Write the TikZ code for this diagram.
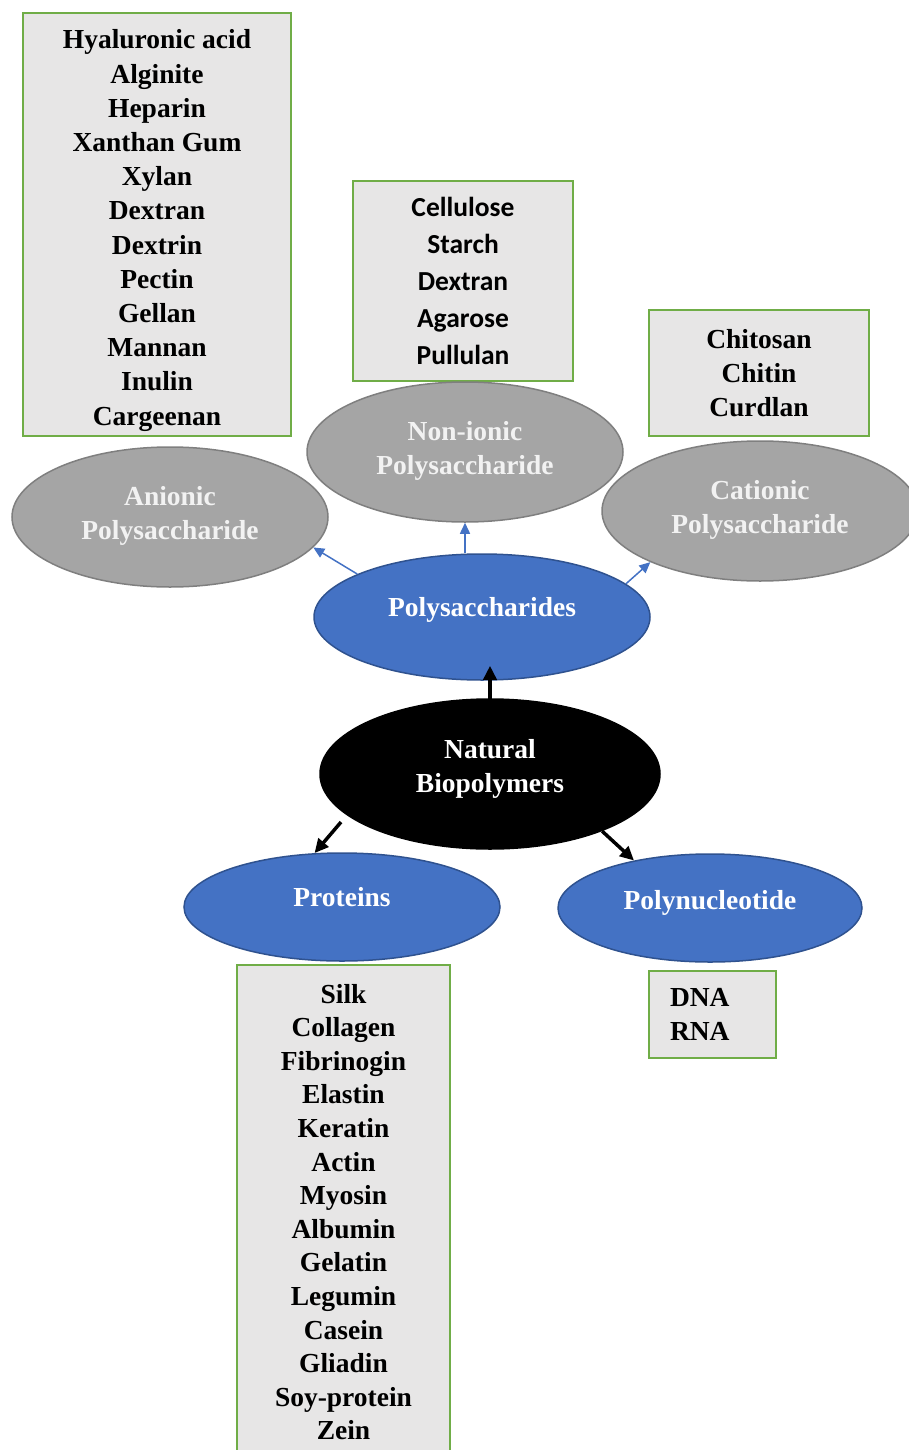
\documentclass[tikz,border=0pt]{standalone}
\usepackage{fontspec}
\setmainfont{Liberation Serif}
\newfontfamily\carlito{Carlito}
\usepackage{xcolor}
\usetikzlibrary{arrows.meta, shapes.geometric, calc}
\definecolor{boxgreen}{HTML}{70AD47}
\definecolor{boxfill}{HTML}{E7E6E6}
\definecolor{ellgray}{HTML}{A5A5A5}
\definecolor{ellgrayline}{HTML}{7F7F7F}
\definecolor{ellblue}{HTML}{4472C4}
\definecolor{ellblueline}{HTML}{2F528F}
\definecolor{paletext}{HTML}{F2F2F2}

\begin{document}
\begin{tikzpicture}[
  x=1pt, y=-1pt,
  every node/.style={font=\fontsize{27.5}{34}\selectfont\bfseries},
  listbox/.style={draw=boxgreen, line width=2.5pt, fill=boxfill, inner sep=0pt, align=center},
  ell/.style={ellipse, inner sep=0pt, align=center, line width=1.5pt},
  grayell/.style={ell, draw=ellgrayline, fill=ellgray, text=paletext, minimum width=316pt, minimum height=140pt},
  blueell/.style={ell, draw=ellblueline, fill=ellblue, text=white},
  rootell/.style={ell, draw=black, fill=black, text=white},
  thinarrow/.style={-{Triangle[length=11pt,width=10pt]}, draw=ellblue, line width=1.5pt},
  thickarrow/.style={-{Triangle[length=14pt,width=13pt]}, line width=3.5pt}
]
\useasboundingbox (0,0) rectangle (908,1450);

% lists of examples
\node[listbox, minimum width=268pt, minimum height=423pt, text height=401pt, text depth=0pt, font=\fontsize{27.5}{34.2}\selectfont\bfseries] (anionlist) at (157,224.5)
  {Hyaluronic acid\\Alginite\\Heparin\\Xanthan Gum\\Xylan\\Dextran\\Dextrin\\Pectin\\Gellan\\Mannan\\Inulin\\Cargeenan};
\node[listbox, minimum width=220pt, minimum height=200pt, font=\fontsize{27.5}{36.8}\selectfont\carlito\bfseries] (nonionlist) at (463,281)
  {Cellulose\\Starch\\Dextran\\Agarose\\Pullulan};
\node[listbox, minimum width=220pt, minimum height=126pt] (cationlist) at (759,373)
  {Chitosan\\Chitin\\Curdlan};
\node[listbox, minimum width=213pt, minimum height=494pt, font=\fontsize{27.5}{33.6}\selectfont\bfseries] (protlist) at (343.5,1212)
  {Silk\\Collagen\\Fibrinogin\\Elastin\\Keratin\\Actin\\Myosin\\Albumin\\Gelatin\\Legumin\\Casein\\Gliadin\\Soy-protein\\Zein};
\node[listbox, align=left, text width=85pt, inner xsep=21pt, minimum height=87pt] (nucllist) at (712.5,1014.5)
  {DNA\\RNA};

% classes
\node[grayell, text depth=8pt] (anion) at (170,517) {Anionic\\Polysaccharide};
\node[grayell, text depth=8pt] (nonion) at (465,452) {Non-ionic\\Polysaccharide};
\node[grayell, text depth=8pt] (cation) at (760,511) {Cationic\\Polysaccharide};
\node[blueell, minimum width=336pt, minimum height=126pt, text depth=20pt] (poly) at (482,617) {Polysaccharides};
\node[rootell, minimum width=340pt, minimum height=150pt, text depth=16pt] (nat) at (490,774) {Natural\\Biopolymers};
\node[blueell, minimum width=316pt, minimum height=108pt, text depth=20pt] (prot) at (342,907) {Proteins};
\node[blueell, minimum width=304pt, minimum height=108pt, text depth=16pt] (nucl) at (710,908) {Polynucleotide};

% arrows
\draw[thinarrow] (poly.161) -- (anion.-12);
\draw[thinarrow] (nonion.south |- poly.north) -- (nonion.south);
\draw[thinarrow] (poly.13) -- (cation.205);
\draw[thickarrow] ($(nat.north)+(0,14)$) -- ($(nat.north |- poly.south)+(0,-15)$);
\draw[thickarrow] ($(nat.200)+(-17,0)$) -- (prot.117);
\draw[thickarrow] (nat.-27) -- (nucl.148);
\end{tikzpicture}
\end{document}
